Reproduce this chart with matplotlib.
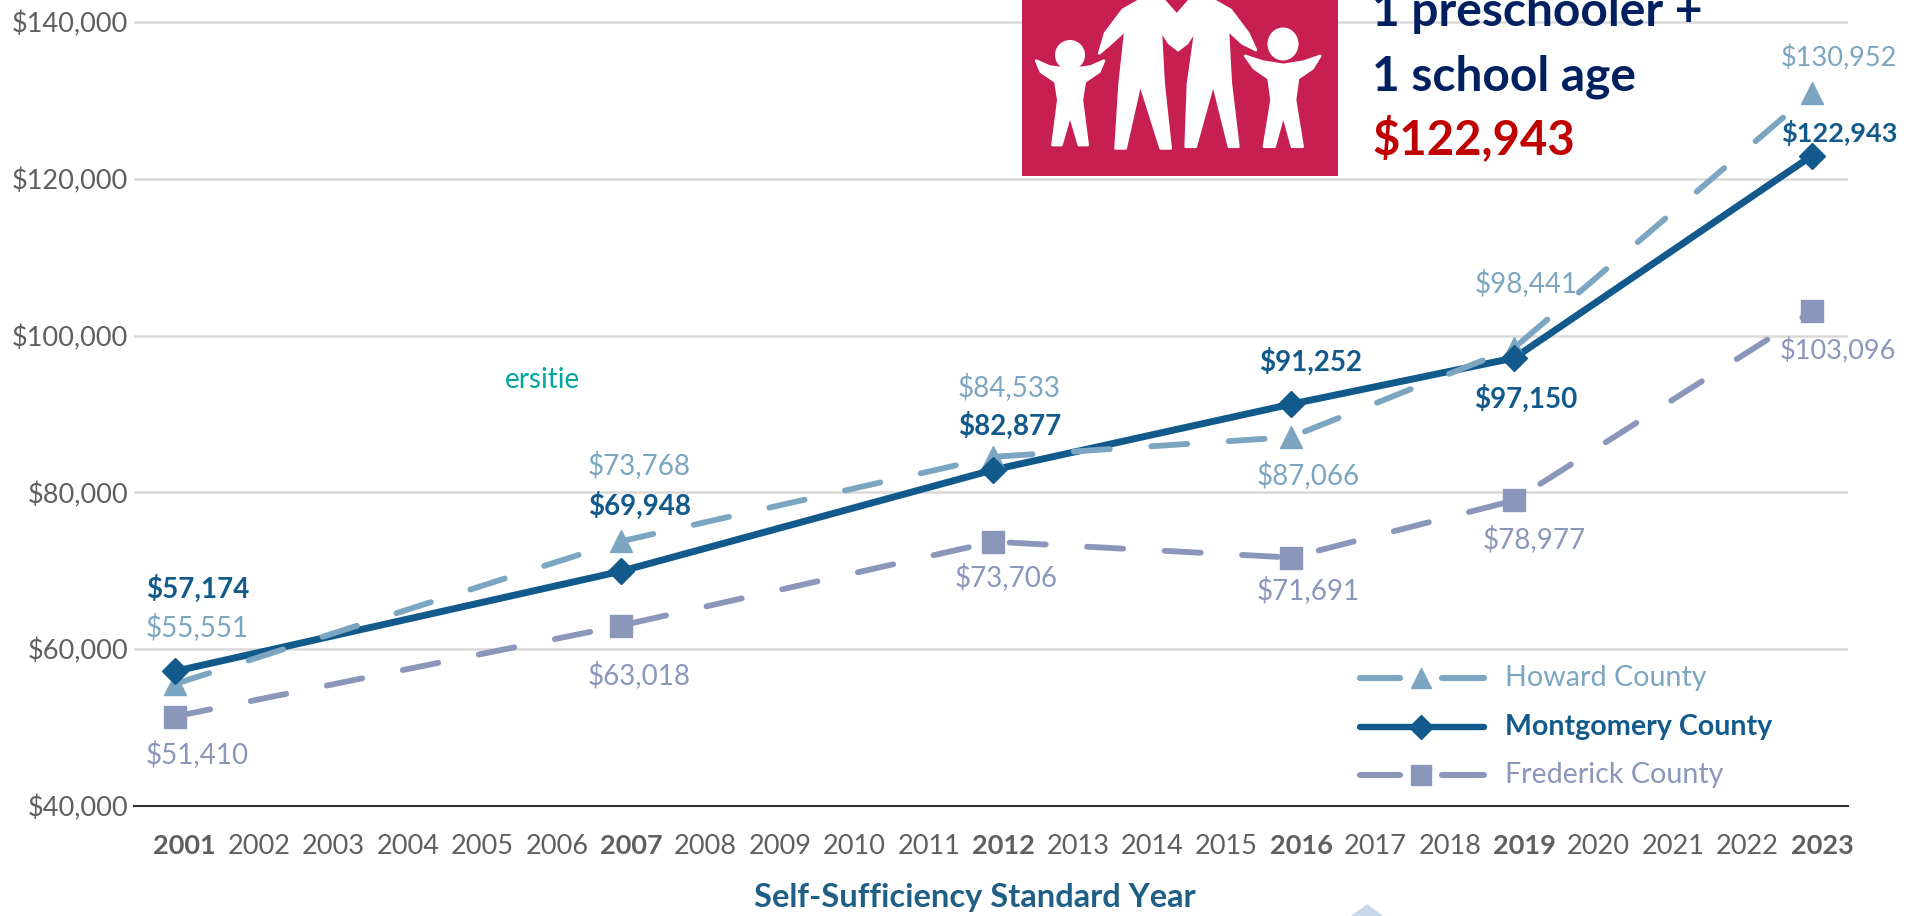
import matplotlib
matplotlib.use("Agg")
import matplotlib.pyplot as plt
from matplotlib.patches import Polygon, Rectangle, Ellipse
from matplotlib.lines import Line2D
from matplotlib.transforms import ScaledTranslation

W, H = 1916, 916
PX = 0.72  # points per pixel at dpi 100

all_years = list(range(2001, 2024))
years = [2001, 2007, 2012, 2016, 2019, 2023]
howard = [55551, 73768, 84533, 87066, 98441, 130952]
montgomery = [57174, 69948, 82877, 91252, 97150, 122943]
frederick = [51410, 63018, 73706, 71691, 78977, 103096]
y_ticks = [40000, 60000, 80000, 100000, 120000, 140000]

HOWARD_C = "#7ba5c0"
MONT_C = "#135a8c"
FRED_C = "#8a97bb"
TEXT_C = "#5f5f5f"
FONT = "Lato"

# label offsets from the marker, in pixels
howard_off = [(22, 57), (18, 76), (16, 70), (17, -38), (12, 65), (27, 35)]
mont_off = [(23, 83), (18, 65), (16, 44), (20, 42), (11, -41), (27, 23)]
fred_off = [(22, -38), (18, -50), (13, -35), (17, -33), (20, -39), (26, -40)]

fig = plt.figure(figsize=(W / 100, H / 100), dpi=100)
fig.patch.set_facecolor("white")

# axes placed so the 2001..2023 and 40k..140k positions line up with the reference
ax = fig.add_axes([134 / W, (H - 806) / H, (1848 - 134) / W, 806 / H])
ax.set_xlim(2000.453, 2023.484)
ax.set_ylim(40000, 142806)
ax.set_facecolor("none")
for s in ["top", "left", "right"]:
    ax.spines[s].set_visible(False)
ax.spines["bottom"].set_color("#333333")
ax.spines["bottom"].set_linewidth(1.5)
ax.grid(axis="y", color="#d9d9d9", linewidth=1.8)
ax.set_axisbelow(True)
ax.tick_params(length=0)

ax.set_yticks(y_ticks)
ax.set_yticklabels([f"${v:,}" for v in y_ticks], fontsize=19.5, color=TEXT_C, family=FONT)
ax.tick_params(axis="y", pad=4)
ax.set_xticks(all_years)
ax.set_xticklabels(all_years, fontsize=19.5, color=TEXT_C, family=FONT)
ax.tick_params(axis="x", pad=20)
# year labels sit about 10px right of the data points in the reference
shift = ScaledTranslation(10 / 100, 0, fig.dpi_scale_trans)
for lab, yr in zip(ax.get_xticklabels(), all_years):
    lab.set_transform(lab.get_transform() + shift)
    if yr in years:
        lab.set_fontweight("bold")

dash = (0, (6.2, 7.1))
ax.plot(years, frederick, color=FRED_C, lw=4.2, ls=dash, dash_capstyle="round", zorder=3)
ax.plot(years, frederick, color=FRED_C, ls="none", marker="s", ms=15.5, zorder=4)
ax.plot(years, montgomery, color=MONT_C, lw=5, zorder=5)
ax.plot(years, howard, color=HOWARD_C, lw=4.2, ls=dash, dash_capstyle="round", zorder=5.5)
ax.plot(years, howard, color=HOWARD_C, ls="none", marker="^", ms=15.5, zorder=5.8)
ax.plot(years, montgomery, color=MONT_C, ls="none", marker="D", ms=13, zorder=6)


def add_labels(vals, offs, color, weight):
    for x, v, (dx, dy) in zip(years, vals, offs):
        size = 19.5 if x == 2023 else 20
        ax.annotate(f"${v:,}", (x, v), xytext=(dx * PX, dy * PX), textcoords="offset points",
                    ha="center", va="center", fontsize=size, color=color,
                    fontweight=weight, family=FONT, annotation_clip=False, zorder=8)


add_labels(howard, howard_off, HOWARD_C, "normal")
add_labels(montgomery, mont_off, MONT_C, "bold")
add_labels(frederick, fred_off, FRED_C, "normal")

# overlay in pixel coordinates for the pasted-on picture, legend and stray bits
ov = fig.add_axes([0, 0, 1, 1], zorder=10)
ov.set_xlim(0, W)
ov.set_ylim(H, 0)
ov.axis("off")

ov.text(975, 897, "Self-Sufficiency Standard Year", ha="center", va="center",
        fontsize=23.5, fontweight="bold", color="#1f5f85", family=FONT)
ov.text(543, 380, "ersitie", ha="center", va="center", fontsize=20, color="#00a79d", family="Lato")

# legend
rows = [(678, HOWARD_C, "^", "Howard County", "normal", True),
        (727, MONT_C, "D", "Montgomery County", "bold", False),
        (775, FRED_C, "s", "Frederick County", "normal", True)]
for y, c, m, name, weight, broken in rows:
    if broken:
        ov.plot([1360, 1400], [y, y], color=c, lw=4.4, solid_capstyle="round")
        ov.plot([1442, 1484], [y, y], color=c, lw=4.4, solid_capstyle="round")
    else:
        ov.plot([1360, 1484], [y, y], color=c, lw=4.6, solid_capstyle="round")
    ov.add_line(Line2D([1421], [y], color=c, marker=m, ms=12.5 if m == "D" else 15, ls="none"))
    ov.text(1505, y, name, ha="left", va="center", fontsize=20.6, color=c, fontweight=weight, family=FONT)

# pale shape cut off by the bottom edge
ov.add_patch(Polygon([(1352, 916), (1367, 905), (1382, 916)], closed=True, color="#c9d7ea", clip_on=True))

# family picture
ov.add_patch(Rectangle((1022, 0), 316, 176, color="#c71f52", lw=0))


def zp(pts):
    return [(1000 + x / 1.712, y / 3) for x, y in pts]


child_l = [(62, 182), (85, 200), (120, 208), (155, 200), (178, 182), (170, 215), (145, 245), (140, 300),
           (150, 435), (135, 435), (120, 345), (105, 435), (90, 435), (100, 300), (95, 245), (70, 215)]
child_r = [(420, 168), (450, 185), (485, 195), (520, 185), (548, 168), (535, 205), (510, 235), (505, 300),
           (518, 440), (500, 440), (485, 345), (470, 440), (452, 440), (465, 300), (460, 235), (435, 205)]
parent_l = [(170, 160), (180, 100), (210, 30), (240, 0), (280, 0), (305, 50), (320, 100), (305, 150), (290, 130),
            (275, 90), (280, 250), (292, 445), (275, 445), (240, 250), (215, 445), (198, 445), (205, 250),
            (215, 90), (190, 130)]
parent_r = [(438, 150), (425, 100), (395, 30), (365, 0), (325, 0), (300, 50), (290, 100), (305, 150), (320, 130),
            (335, 90), (322, 250), (318, 440), (335, 440), (365, 250), (392, 440), (408, 440), (395, 250),
            (390, 90), (415, 130)]
for shape in [child_l, child_r, parent_l, parent_r]:
    ov.add_patch(Polygon(zp(shape), closed=True, facecolor="white", edgecolor="white", lw=2, joinstyle="round"))
ov.add_patch(Ellipse((1070, 55), 30, 30, color="white", lw=0))
ov.add_patch(Ellipse((1283, 44), 31, 33, color="white", lw=0))

# callout text
ov.text(1372, 12, "1 preschooler +", ha="left", va="center", fontsize=34.5, fontweight="bold", color="#002060", family="Lato")
ov.text(1372, 77, "1 school age", ha="left", va="center", fontsize=34.5, fontweight="bold", color="#002060", family="Lato")
ov.text(1372, 139, "$122,943", ha="left", va="center", fontsize=34, fontweight="bold", color="#c00000", family="Lato")

fig.savefig("out.png", dpi=100)
